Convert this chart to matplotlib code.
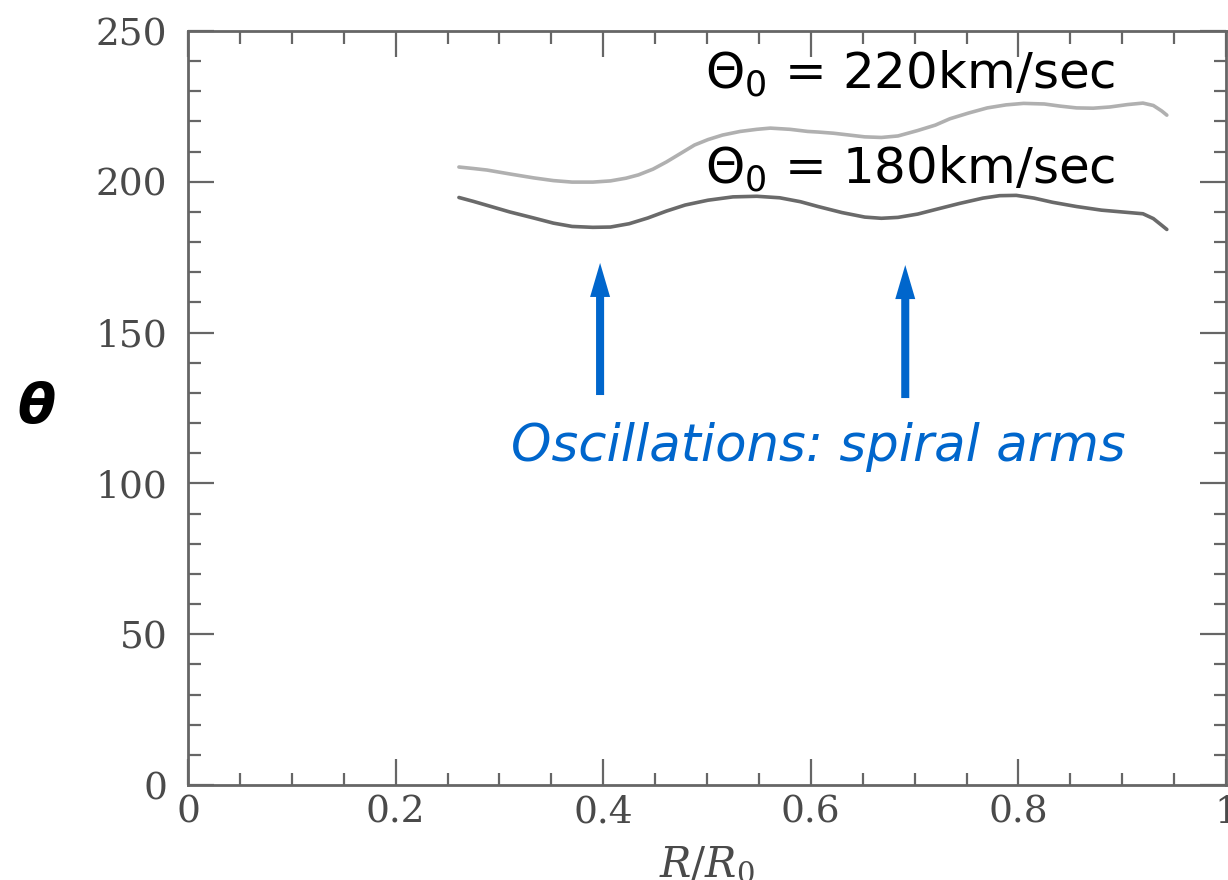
import matplotlib
matplotlib.use("Agg")
import matplotlib.pyplot as plt
from matplotlib.ticker import MultipleLocator, FixedLocator, FixedFormatter

# Rotation curve data: R/R0 versus circular velocity (km/s)
r_220 = [0.261, 0.275, 0.288, 0.310, 0.333, 0.352, 0.370, 0.390, 0.407, 0.422,
         0.434, 0.448, 0.461, 0.475, 0.488, 0.501, 0.515, 0.532, 0.548, 0.561,
         0.580, 0.597, 0.607, 0.622, 0.637, 0.652, 0.668, 0.684, 0.703, 0.720,
         0.734, 0.752, 0.770, 0.788, 0.805, 0.825, 0.840, 0.856, 0.872, 0.888,
         0.905, 0.920, 0.930, 0.938, 0.943]
v_220 = [204.9, 204.4, 203.9, 202.6, 201.3, 200.4, 199.9, 199.9, 200.3, 201.2,
         202.3, 204.2, 206.6, 209.5, 212.2, 214.0, 215.5, 216.7, 217.4, 217.8,
         217.4, 216.7, 216.5, 216.1, 215.5, 214.9, 214.7, 215.2, 217.0, 218.8,
         220.9, 222.8, 224.5, 225.5, 226.0, 225.8, 225.1, 224.5, 224.4, 224.8,
         225.6, 226.1, 225.3, 223.5, 222.1]

r_180 = [0.261, 0.275, 0.288, 0.310, 0.333, 0.352, 0.370, 0.390, 0.407, 0.425,
         0.443, 0.461, 0.479, 0.501, 0.525, 0.548, 0.570, 0.590, 0.607, 0.630,
         0.652, 0.668, 0.684, 0.703, 0.720, 0.743, 0.766, 0.782, 0.798, 0.815,
         0.833, 0.856, 0.880, 0.900, 0.920, 0.930, 0.938, 0.943]
v_180 = [194.8, 193.5, 192.2, 190.0, 188.0, 186.3, 185.2, 184.9, 185.0, 186.1,
         188.0, 190.3, 192.3, 193.9, 195.0, 195.2, 194.7, 193.4, 191.8, 189.8,
         188.3, 187.9, 188.2, 189.3, 190.8, 192.8, 194.6, 195.4, 195.5, 194.6,
         193.2, 191.8, 190.6, 190.0, 189.4, 187.8, 185.6, 184.2]

x_ticks = [0, 0.2, 0.4, 0.6, 0.8, 1.0]
x_tick_labels = ["0", "0.2", "0.4", "0.6", "0.8", "1"]
y_ticks = [0, 50, 100, 150, 200, 250]
y_tick_labels = ["0", "50", "100", "150", "200", "250"]

label_220 = r"$\Theta_0$ = 220km/sec"
label_180 = r"$\Theta_0$ = 180km/sec"
note_text = "Oscillations: spiral arms"
arrow_r = [0.397, 0.691]
arrow_tip = [173.1, 172.4]
arrow_base = [129.3, 128.3]

W, H = 1228, 880
fig = plt.figure(figsize=(W / 100, H / 100), dpi=100)
left, right, top, bottom = 188, 1226, 31, 785
ax = fig.add_axes([left / W, 1 - bottom / H, (right - left) / W, (bottom - top) / H])

axis_gray = "#666666"
tick_gray = "#4a4a4a"

ax.plot(r_220, v_220, color="#b0b0b0", lw=2.6, solid_capstyle="round",
        solid_joinstyle="round")
ax.plot(r_180, v_180, color="#6a6a6a", lw=2.6, solid_capstyle="round",
        solid_joinstyle="round")

ax.set_xlim(0, 1.0)
ax.set_ylim(0, 250)

ax.xaxis.set_major_locator(FixedLocator(x_ticks))
ax.xaxis.set_major_formatter(FixedFormatter(x_tick_labels))
ax.yaxis.set_major_locator(FixedLocator(y_ticks))
ax.yaxis.set_major_formatter(FixedFormatter(y_tick_labels))
ax.xaxis.set_minor_locator(MultipleLocator(0.05))
ax.yaxis.set_minor_locator(MultipleLocator(10))

for s in ax.spines.values():
    s.set_color(axis_gray)
    s.set_linewidth(2.0)

ax.tick_params(which="both", direction="in", top=True, right=True,
               color=axis_gray, width=1.6)
ax.tick_params(which="major", length=19)
ax.tick_params(which="minor", length=9)
ax.tick_params(axis="x", which="major", pad=7)
ax.tick_params(axis="y", which="major", pad=15)

for lab in ax.get_xticklabels() + ax.get_yticklabels():
    lab.set_family("DejaVu Serif")
    lab.set_fontsize(27)
    lab.set_color(tick_gray)

ax.set_xlabel(r"$R/R_0$", fontsize=30, color=tick_gray, labelpad=9,
              math_fontfamily="dejavuserif")

ax.set_ylabel("θ", rotation=0, fontsize=40, fontweight="bold",
              fontstyle="italic", family="DejaVu Sans", color="black",
              ha="center", va="center")
ax.yaxis.set_label_coords(-0.1464, 0.5)

ax.text(0.498, 231.1, label_220, fontsize=36, color="black",
        ha="left", va="baseline", family="DejaVu Sans",
        math_fontfamily="dejavusans")
ax.text(0.498, 199.6, label_180, fontsize=36, color="black",
        ha="left", va="baseline", family="DejaVu Sans",
        math_fontfamily="dejavusans")

blue = "#0066cc"
ax.text(0.607, 107.5, note_text, fontsize=37, color=blue, fontstyle="italic",
        ha="center", va="baseline", family="DejaVu Sans")

for xr, yt, yb in zip(arrow_r, arrow_tip, arrow_base):
    ax.annotate("", xy=(xr, yt), xytext=(xr, yb),
                arrowprops=dict(arrowstyle="simple,head_length=2.45,head_width=1.44,tail_width=0.58",
                                color=blue, lw=0, shrinkA=0, shrinkB=0,
                                mutation_scale=10))

fig.savefig("out.png", dpi=100)
